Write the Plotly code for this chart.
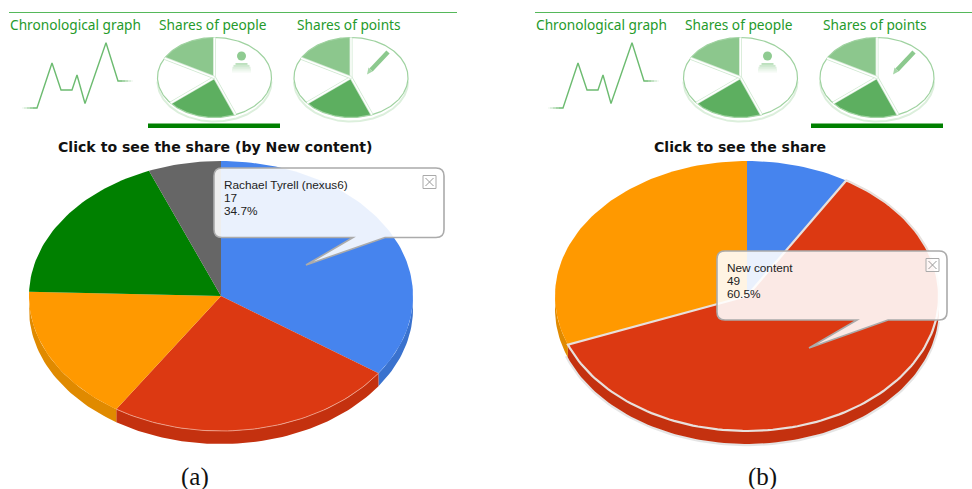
import math
import plotly.graph_objects as go

# ---------- data ----------
people_a = ["Rachael Tyrell (nexus6)", "Red contributor", "Orange contributor", "Green contributor", "Grey contributor"]
points_a = [17, 12, 8, 9, 3]
colors_a = ["#4684EE", "#DC3912", "#FF9900", "#008000", "#666666"]
walls_a = ["#3A72CE", "#C4310F", "#E08A00", "#006E00", "#555555"]

types_b = ["Blue content", "New content", "Orange content"]
points_b = [7, 49, 25]
colors_b = ["#4684EE", "#DC3912", "#FF9900"]
walls_b = ["#3A72CE", "#C4310F", "#E08A00"]

icon_shares = [44, 20, 19, 17]
icon_colors = ["#FFFFFF", "#5DAF60", "#FFFFFF", "#8CC78D"]
chrono_time = [0, 15, 30, 39, 50, 55, 63, 84, 96, 111]
chrono_vals = [0, 0, 60, 24, 24, 44, 6, 87, 36, 36]

tab_labels = ["Chronological graph", "Shares of people", "Shares of points"]
title_a = "Click to see the share (by New content)"
title_b = "Click to see the share"
tip_a = ["Rachael Tyrell (nexus6)", "17", "34.7%"]
tip_b = ["New content", "49", "60.5%"]
# ---------------------------

GREEN_TEXT = "#259A2B"
fig = go.Figure()


def ang_points(cx, cy, rx, ry, a0, a1, n=None):
    n = n or max(2, int(abs(a1 - a0) / 1.5))
    pts = [a0 + (a1 - a0) * i / n for i in range(n + 1)]
    xs = [cx + rx * math.sin(math.radians(a)) for a in pts]
    ys = [cy - ry * math.cos(math.radians(a)) for a in pts]
    return xs, ys


def poly(xs, ys, fill, line=None, width=0):
    fig.add_trace(go.Scatter(
        x=xs, y=ys, mode="lines", fill="toself" if fill else None,
        fillcolor=fill, line=dict(color=line or "rgba(0,0,0,0)", width=width),
        hoverinfo="skip", showlegend=False))


def spans(values):
    total = sum(values)
    out, acc = [], 0
    for v in values:
        out.append((acc / total * 360, (acc + v) / total * 360))
        acc += v
    return out


def walls(cx, cy, rx, ry, depth, sp, cols):
    for (a0, a1), c in zip(sp, cols):
        lo, hi = max(a0, 90), min(a1, 270)
        if hi <= lo:
            continue
        xt, yt = ang_points(cx, cy, rx, ry, lo, hi)
        xb, yb = ang_points(cx, cy + depth, rx, ry, hi, lo)
        poly(xt + xb + xt[:1], yt + yb + yt[:1], c)


def wedges(cx, cy, rx, ry, sp, cols):
    for (a0, a1), c in zip(sp, cols):
        xs, ys = ang_points(cx, cy, rx, ry, a0, a1)
        poly([cx] + xs + [cx], [cy] + ys + [cy], c)


def big_pie(dx, values, cols, wall_cols, sel):
    cx, cy, rx, ry, depth = 221 + dx, 296, 192, 135, 13
    sp = spans(values)
    if sel:
        xs, ys = ang_points(cx, cy + depth + 1, rx + 0.5, ry, 95, 250)
        poly(xs, ys, None, "rgba(0,0,0,0.10)", 2.5)
    walls(cx, cy, rx, ry, depth, sp, wall_cols)
    wedges(cx, cy, rx, ry, sp, cols)
    a0, a1 = sp[1]
    xs, ys = ang_points(cx, cy, rx, ry, a0, a1)
    if sel:
        poly([cx] + xs + [cx], [cy] + ys + [cy], None, "#E8E0DC", 2.2)
    else:
        poly(xs, ys, None, "rgba(240,170,150,0.8)", 1)


def icon_pie(cx):
    cy, rx, ry, depth = 77.5, 57, 40, 4
    sp = spans(icon_shares)
    xs, ys = ang_points(cx, cy + depth, rx, ry, 90, 270)
    poly(xs, ys, None, "#DCEFDC", 2)
    wedges(cx, cy, rx, ry, sp, icon_colors)
    xs, ys = ang_points(cx, cy, rx, ry, 0, 360)
    poly(xs, ys, None, "#9FD2A0", 1.2)
    for a0, _ in sp:
        x, y = ang_points(cx, cy, rx, ry, a0, a0, 1)
        poly([cx, x[0]], [cy, y[0]], None, "#CFE8D0", 3)
        poly([cx, x[0]], [cy, y[0]], None, "#FFFFFF", 1.5)


def chrono(dx):
    xs = [22 + dx + t for t in chrono_time]
    ys = [108 - 0.75 * v for v in chrono_vals]
    poly(xs, ys, None, "#6CBB70", 1.4)
    # the two flat ends of the sparkline fade out
    for i, op in enumerate([0.9, 0.7, 0.45, 0.2]):
        rect(21 + dx + i * 3, 106, 24 + dx + i * 3, 110, f"rgba(255,255,255,{op})")
        rect(131 + dx - i * 3, 79, 134 + dx - i * 3, 83, f"rgba(255,255,255,{op})")


shapes, ann = [], []


def text(x, y, s, size, color, family, anchor="left"):
    ann.append(dict(x=x, y=y, text=s, xref="x", yref="y", showarrow=False, xanchor=anchor,
                    yanchor="middle", font=dict(size=size, color=color, family=family)))


def rect(x0, y0, x1, y1, fill, line=None, w=0):
    shapes.append(dict(type="rect", xref="x", yref="y", x0=x0, y0=y0, x1=x1, y1=y1,
                       fillcolor=fill, line=dict(color=line or "rgba(0,0,0,0)", width=w)))


def panel(dx, rule_end, bar_x, title, title_x):
    shapes.append(dict(type="line", xref="x", yref="y", x0=9 + dx, x1=rule_end, y0=12.5, y1=12.5,
                       line=dict(color="#55B85A", width=1)))
    for x, s in zip([8, 156.5, 294.5], tab_labels):
        text(x + dx, 24, s, 13.7, GREEN_TEXT, "Noto Sans")
    chrono(dx)
    icon_pie(214.5 + dx)
    icon_pie(351 + dx)
    # person glyph
    px = 241.5 + dx
    shapes.append(dict(type="circle", xref="x", yref="y", x0=px - 4.5, x1=px + 4.5, y0=51.5, y1=60.5,
                       fillcolor="#8FCB91", line=dict(width=0)))
    for i, op in enumerate([0.6, 0.45, 0.32, 0.2, 0.1]):
        half = [6, 8, 9, 9.5, 9.5][i]
        rect(px - half, 63 + i * 1.9, px + half, 64.9 + i * 1.9, f"rgba(143,203,145,{op})")
    # pencil glyph
    shapes.append(dict(type="line", xref="x", yref="y", x0=388 + dx, y0=52, x1=371 + dx, y1=70,
                       line=dict(color="#8CC98E", width=4.5)))
    shapes.append(dict(type="path", xref="x", yref="y",
                       path=f"M {368.5+dx} {67.5} L {372.5+dx} {71.5} L {367+dx} {74.5} Z",
                       fillcolor="#A6D6A8", line=dict(width=0)))
    rect(bar_x, 123.5, bar_x + 132, 128, "#008000")
    ann.append(dict(x=title_x, y=147, text=f"<b>{title}</b>", xref="x", yref="y", showarrow=False,
                    xanchor="center", yanchor="middle",
                    font=dict(size=14.1, color="#111111", family="DejaVu Sans")))


def bubble(x0, y0, x1, y1, t0, tip, t1, lines):
    r = 8
    path = (f"M {x0+r} {y0} L {x1-r} {y0} Q {x1} {y0} {x1} {y0+r} L {x1} {y1-r} Q {x1} {y1} {x1-r} {y1} "
            f"L {t1} {y1} L {tip[0]} {tip[1]} L {t0} {y1} L {x0+r} {y1} Q {x0} {y1} {x0} {y1-r} "
            f"L {x0} {y0+r} Q {x0} {y0} {x0+r} {y0} Z")
    shapes.append(dict(type="path", xref="x", yref="y", path=path, fillcolor="rgba(255,255,255,0.89)",
                       line=dict(color="#ABABAB", width=1.6)))
    for i, s in enumerate(lines):
        text(x0 + 8, y0 + 16.5 + i * 13, s, 11.8, "#222222", "Liberation Sans")
    bx, by = x1 - 21, y0 + 7.5
    rect(bx, by, bx + 13, by + 13, "rgba(255,255,255,0.6)", "#AAAAAA", 1)
    for a, b in (((bx + 2.5, by + 2.5), (bx + 10.5, by + 10.5)), ((bx + 10.5, by + 2.5), (bx + 2.5, by + 10.5))):
        shapes.append(dict(type="line", xref="x", yref="y", x0=a[0], y0=a[1], x1=b[0], y1=b[1],
                           line=dict(color="#999999", width=1)))


panel(0, 457, 148, title_a, 214.5)
panel(526, 972, 811, title_b, 739.5)
big_pie(0, points_a, colors_a, walls_a, False)
big_pie(526, points_b, colors_b, walls_b, True)
bubble(214, 168, 444, 237.5, 353, (306, 265), 385, tip_a)
bubble(717, 251, 947, 320, 857, (809, 348), 888, tip_b)
text(195, 477, "(a)", 25, "#111111", "Liberation Serif", "center")
text(762, 477, "(b)", 25, "#111111", "Liberation Serif", "center")

fig.update_layout(
    width=972, height=489, margin=dict(l=0, r=0, t=0, b=0),
    paper_bgcolor="white", plot_bgcolor="white", showlegend=False,
    xaxis=dict(range=[0, 972], visible=False, fixedrange=True),
    yaxis=dict(range=[489, 0], visible=False, fixedrange=True),
    shapes=shapes, annotations=ann)

fig.write_html("out.html", config={"displayModeBar": False},
               post_script="document.body.style.margin='0';")
